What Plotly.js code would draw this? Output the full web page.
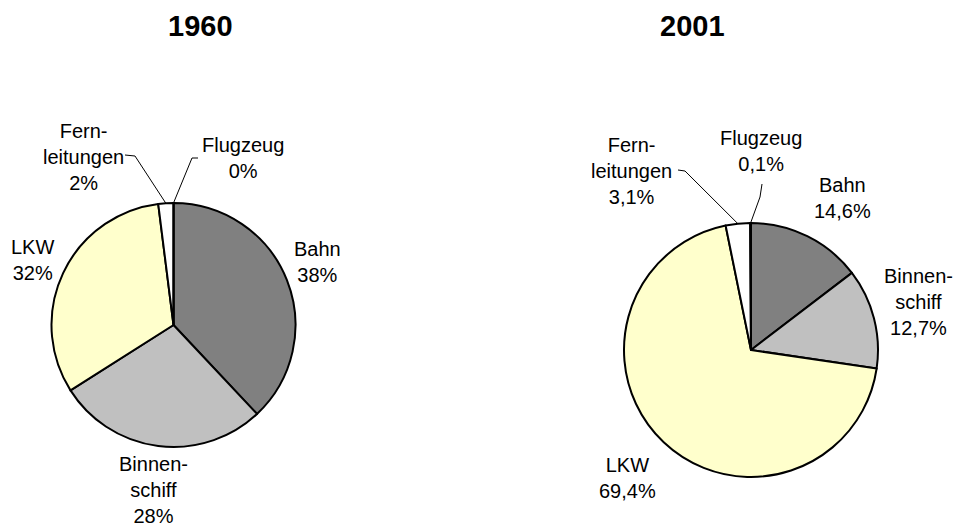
<!DOCTYPE html>
<html>
<head>
<meta charset="utf-8">
<script src="https://cdn.plot.ly/plotly-3.0.1.min.js"></script>
<style>
  html, body { margin: 0; padding: 0; background: #fff; }
  #plot { width: 957px; height: 529px; }
</style>
</head>
<body>
<div id="plot"></div>
<script>
// Modal split of freight transport, 1960 vs 2001
let categories = ['Bahn', 'Binnenschiff', 'LKW', 'Fernleitungen', 'Flugzeug'];
let labelText = ['Bahn', 'Binnen-<br>schiff', 'LKW', 'Fern-<br>leitungen', 'Flugzeug'];
let values1960 = [38, 28, 32, 2, 0];
let values2001 = [14.6, 12.7, 69.4, 3.1, 0.1];
let years = ['1960', '2001'];
let colors = ['#808080', '#C0C0C0', '#FFFFCC', '#FFFFFF', '#FFFFFF'];

const W = 957, H = 529;
const FONT = 'Liberation Sans, Arial, sans-serif';

// pie geometry in pixels (centre, radius)
let pies = [
    {cx: 173.5, cy: 325, r: 122, values: values1960},
    {cx: 751, cy: 350, r: 127, values: values2001}
];

// where the label blocks sit (pixel centres)
let labelPos = [
    [[317, 262], [153, 490], [32, 260], [83, 157], [243, 158]],
    [[842, 198], [918, 302], [627, 478], [631, 171], [761, 151]]
];

// leader lines: label-side points, the pie end comes from the data
let leaders = [
    {3: [[125, 155], [135, 156]], 4: [[198, 158], [192, 158]]},
    {3: [[678, 170], [685, 171]], 4: [[762, 184], [760, 197]]}
];

function px(x) { return x / W; }
function py(y) { return 1 - y / H; }

function fmt(v) {
    return (Number.isInteger(v) ? String(v) : v.toFixed(1).replace('.', ',')) + '%';
}

// point on the rim at the middle of slice i (clockwise from 12 o'clock)
function rimPoint(pie, i) {
    let total = pie.values.reduce((a, b) => a + b, 0);
    let before = pie.values.slice(0, i).reduce((a, b) => a + b, 0);
    let frac = (before + pie.values[i] / 2) / total;
    let ang = frac * 2 * Math.PI;
    return [pie.cx + pie.r * Math.sin(ang), pie.cy - pie.r * Math.cos(ang)];
}

let data = pies.map(function (pie) {
    return {
        type: 'pie',
        labels: categories,
        values: pie.values,
        sort: false,
        direction: 'clockwise',
        rotation: 0,
        textinfo: 'none',
        hoverinfo: 'label+percent',
        marker: {colors: colors, line: {color: '#000000', width: 2}},
        domain: {
            x: [px(pie.cx - pie.r), px(pie.cx + pie.r)],
            y: [py(pie.cy + pie.r), py(pie.cy - pie.r)]
        },
        showlegend: false
    };
});

let annotations = [];
let shapes = [];

// titles
let titlePos = [[200, 26], [692, 26]];
years.forEach(function (yr, k) {
    annotations.push({
        text: '<b>' + yr + '</b>', xref: 'paper', yref: 'paper',
        x: px(titlePos[k][0]), y: py(titlePos[k][1]),
        xanchor: 'center', yanchor: 'middle', showarrow: false,
        font: {family: FONT, size: 29, color: '#000'}
    });
});

// slice labels + leader lines
pies.forEach(function (pie, k) {
    categories.forEach(function (c, i) {
        let p = labelPos[k][i];
        annotations.push({
            text: labelText[i] + '<br>' + fmt(pie.values[i]),
            xref: 'paper', yref: 'paper',
            x: px(p[0]), y: py(p[1]),
            xanchor: 'center', yanchor: 'middle', showarrow: false,
            font: {family: FONT, size: 20, color: '#000'}
        });
        if (leaders[k][i]) {
            let pts = leaders[k][i].concat([rimPoint(pie, i)]);
            let path = pts.map((q, j) => (j ? 'L' : 'M') + px(q[0]) + ',' + py(q[1])).join(' ');
            shapes.push({type: 'path', xref: 'paper', yref: 'paper', path: path,
                line: {color: '#000', width: 1}});
        }
    });
});

let layout = {
    width: W,
    height: H,
    margin: {l: 0, r: 0, t: 0, b: 0},
    paper_bgcolor: '#ffffff',
    plot_bgcolor: '#ffffff',
    annotations: annotations,
    shapes: shapes,
    font: {family: FONT}
};

Plotly.newPlot('plot', data, layout, {displayModeBar: false, staticPlot: true});
</script>
</body>
</html>
